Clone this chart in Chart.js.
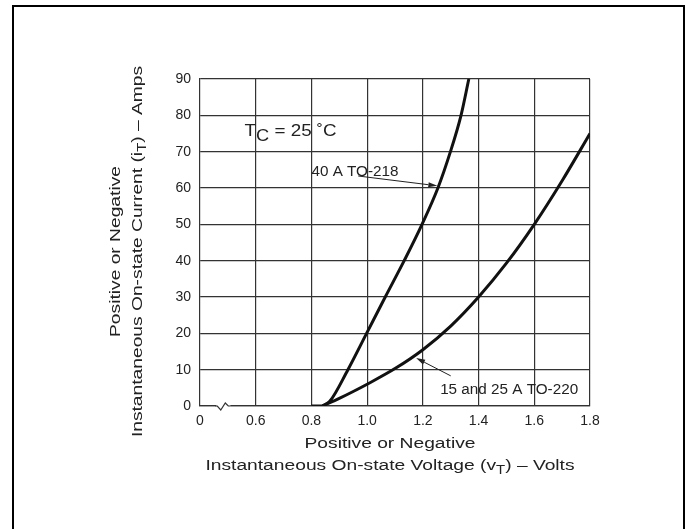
<!DOCTYPE html>
<html>
<head>
<meta charset="utf-8">
<script src="https://cdn.jsdelivr.net/npm/chart.js@4.4.1/dist/chart.umd.min.js"></script>
<style>
  html, body { margin: 0; padding: 0; background: #fff; }
  #wrap { position: relative; width: 688px; height: 529px; }
</style>
</head>
<body>
<div id="wrap"><canvas id="chartVT"></canvas></div>
<script>
// on-state characteristics
var voltsOff = [0.8, 0.84];
var ampsOff = [0, 0];
var voltsTO218 = [0.84, 0.866, 0.931, 0.998, 1.065, 1.133, 1.197, 1.254, 1.299, 1.337, 1.365];
var ampsTO218 = [0, 1.3, 10, 20, 30, 40, 50, 60, 70, 80, 90];
var voltsTO220 = [0.84, 0.9, 0.95, 1.0, 1.1, 1.2, 1.3, 1.4, 1.5, 1.6, 1.7, 1.8];
var ampsTO220 = [0, 2.1, 4.0, 6, 10.3, 15.5, 22, 30, 39.3, 50, 62, 75];

// x axis is broken: the first tick sits where 0.4 would be and reads "0"
var voltTicks = [0.4, 0.6, 0.8, 1.0, 1.2, 1.4, 1.6, 1.8];
var voltTickLabels = ["0", "0.6", "0.8", "1.0", "1.2", "1.4", "1.6", "1.8"];
var ampTicks = [0, 10, 20, 30, 40, 50, 60, 70, 80, 90];

var FONT = "'Liberation Sans', Arial, Helvetica, sans-serif";
var INK = "#222";

function toPoints(xs, ys) {
    return xs.map(function (x, i) { return { x: x, y: ys[i] }; });
}

// text pieces: [text, isSubscript]; drawn a little wide like the original lettering
function partsWidth(ctx, parts, size, subSize) {
    var w = 0;
    parts.forEach(function (p) {
        ctx.font = (p[1] ? subSize : size) + "px " + FONT;
        w += ctx.measureText(p[0]).width;
    });
    return w;
}

function drawParts(ctx, parts, x, y, opt) {
    var w = partsWidth(ctx, parts, opt.size, opt.sub);
    var cx = opt.align === "left" ? 0 : -w / 2;
    ctx.save();
    ctx.translate(x, y);
    ctx.scale(opt.sx, 1);
    ctx.textAlign = "left";
    ctx.textBaseline = "middle";
    parts.forEach(function (p) {
        ctx.font = (p[1] ? opt.sub : opt.size) + "px " + FONT;
        ctx.fillText(p[0], cx, p[1] ? opt.drop : 0);
        cx += ctx.measureText(p[0]).width;
    });
    ctx.restore();
}

function arrow(ctx, x1, y1, x2, y2) {
    var a = Math.atan2(y2 - y1, x2 - x1);
    var len = 9, half = 2.6;
    ctx.beginPath();
    ctx.moveTo(x1, y1);
    ctx.lineTo(x2 - Math.cos(a) * len, y2 - Math.sin(a) * len);
    ctx.lineWidth = 1;
    ctx.strokeStyle = INK;
    ctx.stroke();
    ctx.beginPath();
    ctx.moveTo(x2, y2);
    ctx.lineTo(x2 - Math.cos(a) * len - Math.sin(a) * half, y2 - Math.sin(a) * len + Math.cos(a) * half);
    ctx.lineTo(x2 - Math.cos(a) * len + Math.sin(a) * half, y2 - Math.sin(a) * len - Math.cos(a) * half);
    ctx.closePath();
    ctx.fillStyle = INK;
    ctx.fill();
}

var decor = {
    id: "decor",
    beforeDraw: function (chart) {
        var ctx = chart.ctx;
        ctx.save();
        ctx.fillStyle = "#fff";
        ctx.fillRect(0, 0, chart.width, chart.height);
        ctx.restore();
    },
    afterDraw: function (chart) {
        var ctx = chart.ctx;
        var xs = chart.scales.x, ys = chart.scales.y;
        var area = chart.chartArea;
        ctx.save();

        // frame round the figure (bottom edge falls outside the picture)
        ctx.strokeStyle = "#000";
        ctx.lineWidth = 2;
        ctx.strokeRect(13, 6, 671, 600);

        // axis break zigzag
        var bx = xs.getPixelForValue(0.462), by = area.bottom;
        ctx.fillStyle = "#fff";
        ctx.fillRect(bx - 1, by - 2, 14, 4);
        ctx.beginPath();
        ctx.moveTo(bx - 2, by);
        ctx.lineTo(bx, by);
        ctx.lineTo(bx + 3.5, by + 4);
        ctx.lineTo(bx + 8, by - 3);
        ctx.lineTo(bx + 11, by);
        ctx.lineTo(bx + 13, by);
        ctx.strokeStyle = "#333";
        ctx.lineWidth = 1.2;
        ctx.stroke();

        ctx.fillStyle = INK;
        var title = { size: 15.5, sub: 12, drop: 5, sx: 1.24 };

        // x axis title
        var cx = (area.left + area.right) / 2 - 5;
        drawParts(ctx, [["Positive or Negative", false]], cx, area.bottom + 38, title);
        drawParts(ctx, [["Instantaneous On-state Voltage (v", false], ["T", true], [") \u2013 Volts", false]],
            cx, area.bottom + 60, title);

        // y axis title
        var cy = (area.top + area.bottom) / 2 + 9;
        ctx.save();
        ctx.translate(116, cy);
        ctx.rotate(-Math.PI / 2);
        drawParts(ctx, [["Positive or Negative", false]], 0, 0, title);
        drawParts(ctx, [["Instantaneous On-state Current (i", false], ["T", true], [") \u2013 Amps", false]],
            0, 22, title);
        ctx.restore();

        // case temperature note
        drawParts(ctx, [["T", false], ["C", true], [" = 25 \u02DAC", false]],
            xs.getPixelForValue(0.56), ys.getPixelForValue(75) - 2,
            { size: 16.5, sub: 16, drop: 5, sx: 1.14, align: "left" });

        // curve labels with leader arrows
        var lab = { size: 14, sub: 14, drop: 0, sx: 1.09, align: "left" };
        drawParts(ctx, [["40 A TO-218", false]], xs.getPixelForValue(0.8), ys.getPixelForValue(64.5), lab);
        arrow(ctx, xs.getPixelForValue(0.968), ys.getPixelForValue(63.3),
            xs.getPixelForValue(1.252), ys.getPixelForValue(60.6));

        drawParts(ctx, [["15 and 25 A TO-220", false]], xs.getPixelForValue(1.262), ys.getPixelForValue(4.4), lab);
        arrow(ctx, xs.getPixelForValue(1.3), ys.getPixelForValue(8.3),
            xs.getPixelForValue(1.176), ys.getPixelForValue(13.2));

        ctx.restore();
    }
};

function curve(label, xs, ys) {
    return {
        label: label,
        data: toPoints(xs, ys),
        borderColor: "#111",
        borderWidth: 3,
        pointRadius: 0,
        cubicInterpolationMode: "monotone",
        fill: false,
    };
}

var ctxVT = document.getElementById("chartVT").getContext("2d");
var chartVT = new Chart(ctxVT, {
    type: "line",
    data: {
        datasets: [
            curve("off-state", voltsOff, ampsOff),
            curve("40 A TO-218", voltsTO218, ampsTO218),
            curve("15 and 25 A TO-220", voltsTO220, ampsTO220),
        ],
    },
    options: {
        responsive: true,
        maintainAspectRatio: false,
        animation: false,
        layout: { padding: { top: 79, right: 98, bottom: 0, left: 0 } },
        plugins: {
            legend: { display: false },
            tooltip: { enabled: false },
        },
        scales: {
            x: {
                type: "linear",
                min: 0.4,
                max: 1.8,
                afterBuildTicks: function (axis) {
                    axis.ticks = voltTicks.map(function (v) { return { value: v }; });
                },
                afterFit: function (axis) { axis.height = 123; },
                ticks: {
                    autoSkip: false,
                    maxRotation: 0,
                    padding: 7,
                    color: INK,
                    font: { family: FONT, size: 14 },
                    callback: function (v, i) { return voltTickLabels[i]; },
                },
                grid: {
                    color: function (c) { return c.tick && c.tick.value === 0.4 ? "rgba(0,0,0,0)" : "#333"; },
                    lineWidth: 1.2,
                    drawTicks: false,
                },
                border: { color: "#333", width: 1.2 },
            },
            y: {
                type: "linear",
                min: 0,
                max: 90,
                afterBuildTicks: function (axis) {
                    axis.ticks = ampTicks.map(function (v) { return { value: v }; });
                },
                afterFit: function (axis) { axis.width = 200; },
                ticks: {
                    padding: 9,
                    color: INK,
                    font: { family: FONT, size: 14 },
                },
                grid: {
                    color: "#333",
                    lineWidth: 1.2,
                    drawTicks: false,
                },
                border: { color: "#333", width: 1.2 },
            },
        },
    },
    plugins: [decor],
});
</script>
</body>
</html>
